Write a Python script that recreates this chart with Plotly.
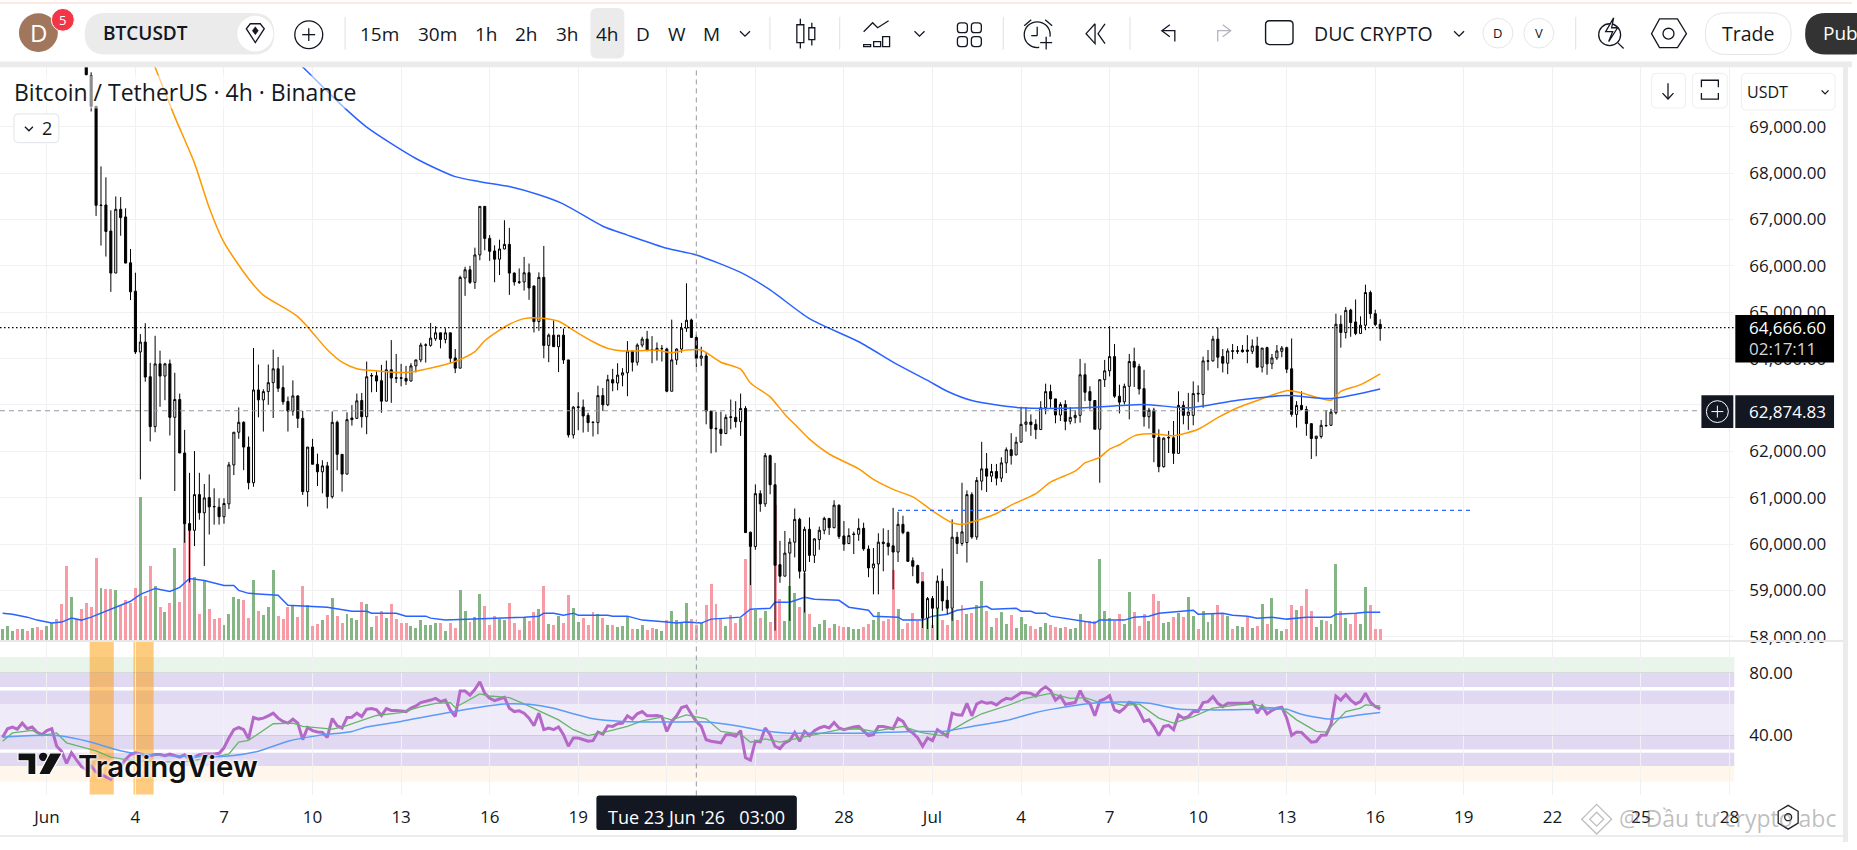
import pandas as pd
import plotly.graph_objects as go

W, H = 1857, 850
START = pd.Timestamp("2026-06-01 00:00")

# ---------- candles: bars 8..271 after 1 Jun 00:00 (4h bars), earlier bars are above the pane
first_candle = 8
opens = [
70600,70100,69440,67320,67320,66760,65859,67228,67064,66079,65469,64164,64376,63632,62560,63908,63646,63908,62760,63142,
61994,60476,60334,61100,60710,61036,60844,60830,60625,60901,61738,62440,62653,62121,61355,63348,63135,63313,63504,63802,
63398,63100,62894,63220,62738,61164,62121,61752,61590,61717,61057,62653,61965,61540,62745,62738,
63121,62773,63660,63653,63546,63107,63780,63610,63610,63596,63539,63865,63993,64315,64305,64447,64575,64433,64575,64036,
63816,65752,65929,65660,66248,67291,66603,66333,66156,66376,66475,65858,65670,65667,65865,65582,64816,65766,64305,64525,
64277,64525,63993,62383,62985,62979,62802,62660,62646,63227,63029,63568,63497,63667,63717,64185,63943,64312,64440,64210,64192,
64240,64227,63320,63993,64227,64674,64851,64475,64029,64078,62894,62525,62504,62412,62770,62759,62667,62951,60291,59986,
61121,60901,61937,61312,59596,59348,59844,60079,60568,59454,60355,59795,60135,60334,60589,60390,60873,60213,60050,60255,
60248,60376,59930,59525,59610,60079,60057,60000,59866,60461,60291,59681,59575,59227,58447,58866,58660,59241,58830,58660,60185,
60050,60070,61100,60190,61390,61653,61497,61596,61454,61781,62064,61951,62227,62610,62660,62610,62497,62965,63312,63156,
62809,63036,62674,62752,62802,63674,63312,63121,62504,63568,63759,64064,63213,63093,63426,63958,63851,63376,62773,62915,
62327,61700,62330,62320,61986,63015,62802,62802,63275,63249,63975,63972,64440,64064,63922,64190,64190,64206,64206,64178,64291,63837,64256,63908,64036,64178,64256,
63802,62823,63015,62929,62624,62305,62348,62585,62589,62858,64759,64582,65064,64809,64561,64738,65440,64986,64759]
highs = [
70900,70170,69440,68150,67915,67206,67504,67490,67250,66376,65866,64547,64781,63930,64511,64192,63930,64000,63717,63270,
62490,61568,62036,61568,61327,61533,61235,61022,61022,61802,62440,62972,62675,62348,64249,63894,63362,63894,64213,64057,
63873,63206,63554,63234,62901,62121,62298,61980,61838,61802,62887,62688,61965,62866,63022,63270,
63284,63958,63709,63745,63887,63979,64419,64121,63908,63865,63922,63993,64362,64348,64787,64716,64575,64674,64575,64227,
65802,65993,66014,66404,67291,67291,66674,66454,66575,66993,66830,65873,65958,66206,66064,65582,65873,66440,64561,64844,
64525,64667,63993,63000,63298,63142,62858,62660,63440,63390,63674,63802,63922,63816,64397,64185,64348,64490,64617,64504,64369,
64312,64256,64858,64241,64788,65639,64880,64539,64277,64149,62894,62880,62880,62823,63142,63107,63270,63000,60305,61320,
61192,61993,61958,61780,60107,60320,60163,60802,60603,60412,60610,60163,60412,60625,60589,60979,60887,60532,60376,60305,
60589,60497,60008,59951,60270,60376,60341,60816,60731,60646,60305,59752,59596,59240,58901,58922,59362,59511,59135,60568,60300,
61355,61190,61150,61476,62234,61993,61759,61759,61901,62114,62419,62341,62986,62979,62823,62717,63107,63483,63461,63156,
63085,63128,62979,62915,64015,63922,63426,63121,63568,63993,64717,64334,63461,63483,64121,64256,63908,63780,62965,62965,
62504,62327,62468,62681,63319,63107,63284,63532,63447,64064,64206,64511,64688,64227,64241,64334,64291,64312,64525,64433,64490,64248,64277,64121,64312,64291,64277,
64454,63107,63319,63000,62624,62362,62702,62915,62944,64986,64951,65128,65093,65291,64929,65610,65482,65071,64866]
lows = [
70100,69330,67086,66448,66213,65455,65859,66660,66072,65277,64121,61426,63525,62242,62440,62986,63128,62370,61178,61994,
60065,59213,59994,60561,59568,60242,60455,60455,60476,60788,61519,62300,61625,61213,61270,62760,62454,63029,62745,63305,
63029,62455,62795,62532,61093,60844,61752,61284,61128,60802,61015,61625,61164,61540,62582,62724,
62539,62397,63298,63305,62858,63107,63071,63497,63426,63454,63532,63724,63943,63936,64277,64404,64241,64348,63922,63709,
63816,65369,65624,65518,66135,66348,66121,65660,65816,66369,65390,65589,65624,65482,65284,64582,64617,64029,63943,64277,
63730,63908,62327,62305,62483,62433,62447,62348,62397,62894,63000,63320,63341,63426,63213,63745,63873,64263,64192,63922,63979,
63958,63298,63320,63887,64149,64596,64468,63837,63866,62610,61986,62007,62149,62397,62504,62539,62362,60284,59157,59915,
60731,60837,61107,58178,59206,59348,58390,59752,59298,58568,59653,59631,59915,60248,60234,60376,60149,59894,60036,59823,
60107,59894,59326,58958,58958,59454,59795,59064,59653,60248,59653,59348,59185,58235,58213,58235,57965,58603,58532,58390,59823,
60000,59640,60150,60130,61192,61157,61369,61298,61369,61561,61745,61951,62220,62454,62362,62291,62497,62823,62965,62632,
62681,62483,62610,62632,62646,63107,62929,62504,61355,63412,63639,63178,62844,63036,62717,63412,63249,62561,62518,61795,
61580,61680,61993,61759,61986,62610,62490,62589,63086,62965,63766,63958,63816,63724,63688,64007,64121,64149,63922,64121,63837,63724,63674,63795,63993,64050,63710,
62773,62539,62908,62362,61866,61923,62305,62560,62575,62823,64256,64454,64490,64525,64561,64631,64880,64717,64404]
closes = [
70120,69440,67313,67310,66752,65859,67228,67050,66072,65455,64164,64376,63625,62560,63908,63646,63908,62760,63142,61994,
60476,60334,61100,60710,61029,60837,60840,60625,60909,61738,62440,62653,62121,61355,63348,63135,63313,63504,63802,63384,
63093,62894,63220,62738,61164,62121,61752,61590,61717,61057,62653,61965,61540,62710,62710,63114,
62773,63632,63650,63539,63107,63780,63603,63600,63600,63539,63865,63993,64312,64310,64461,64575,64433,64575,64029,63816,
65766,65929,65660,66248,67291,66603,66326,66156,66376,66475,65858,65667,65660,65865,65539,64816,65766,64305,64525,64277,
64525,63993,62383,62979,62975,62788,62646,62650,63227,63029,63568,63497,63667,63717,64185,63943,64312,64440,64192,64200,64241,
64235,63320,63993,64227,64674,64844,64475,64029,64078,62894,62518,62515,62412,62759,62760,62667,62951,60284,59986,61121,
60901,61937,61312,59582,59348,59844,60079,60568,59454,60355,59795,60149,60334,60589,60390,60873,60199,60036,60220,60245,
60376,59937,59525,59610,60079,60050,59986,59866,60461,60284,59667,59561,59206,58447,58866,58660,59241,58816,58660,60185,60050,
60300,61100,60190,61405,61653,61497,61596,61454,61781,62064,61937,62227,62610,62660,62603,62497,62965,63312,63156,62809,
63036,62674,62759,62802,63674,63298,63121,62504,63568,63759,64064,63213,63086,63426,63958,63837,63369,62773,62915,62327,
61700,62313,62320,61986,63015,62802,62873,63270,63265,63972,63965,64440,64050,63922,64185,64180,64180,64170,64178,64291,63837,64248,63908,64036,64185,64248,63795,
62823,63015,62929,62624,62305,62355,62589,62580,62873,64759,64582,65057,64795,64561,64738,65440,64986,64752,64667]
n = len(opens)

# moving averages on price: bar number and value
ema_bars = [20,22,26,30,33,36,41,44,51,57,60,63,67,73,77,81,83,87,89,92,94,97,100,104,107,111,114,117,124,127,130,133,137,141,143,147,150,152,155,159,165,168,172,176,180,184,186,190,193,196,201,204,209,211,214,216,218,221,224,226,229,234,238,242,246,252,255,261,263,267,271]
ema_vals = [70850,70277,69213,68220,67263,66518,65738,65384,64922,64213,63944,63805,63759,63724,63795,63894,63958,64170,64404,64631,64759,64880,64894,64823,64631,64383,64241,64185,64200,64149,64206,64206,63944,63795,63497,63199,62823,62610,62291,61972,61653,61426,61213,61050,60752,60497,60461,60575,60695,60873,61121,61369,61603,61780,61901,62078,62170,62362,62405,62397,62362,62504,62752,62965,63121,63333,63284,63128,63319,63461,63695]
sma_bars = [45,52,60,65,75,83,88,94,100,105,113,118,126,132,141,147,155,165,173,179,183,188,198,211,223,232,242,252,261,271]
sma_vals = [70970,70283,69454,68993,68319,67929,67822,67716,67539,67340,66865,66674,66390,66248,65872,65496,64879,64383,63886,63553,63319,63120,62964,62964,63035,62964,63127,63227,63163,63369]

# volume in hundreds of coins, bars -9..271
vol_first = -9
volumes = [11,14,9,11,11,9,12,13,10,14, 17,21,36,74,43,21,31,37,33,82, 52,51,51,50,35,40,37,52,144,44, 74,54,33,28,37,92,38,126,118,63,
26,60,31,21,22,15,26,43,41,40, 22,60,29,25,33,70,24,21,33,34, 23,54,35,14,16,20,25,42,24,17, 26,22,20,38,36,13,24,29,22,36,
21,17,17,14,12,20,15,15,17,17, 9,17,12,50,29,18,23,46,34,15, 24,21,20,37,17,10,22,19,28,31, 54,16,15,24,17,45,32,18,22,15,
28,26,22,15,15,13,14,23,11,11, 15,10,12,11,9,20,29,20,18,37, 21,15,17,35,56,36,21,14,25,17, 22,81,93,30,22,29,18,136,41,19,
54,47,33,67,26,13,16,20,12,16, 14,13,13,11,11,13,16,20,28,19, 21,70,31,11,17,27,19,68,21,15, 34,20,15,31,20,35,26,27,35,59,
29,13,22,28,16,25,12,23,16,14, 11,13,17,15,13,12,13,11,12,26, 19,19,19,81,29,22,19,26,16,48, 28,14,26,19,46,39,17,18,23,27,
23,43,24,11,29,18,26,35,27,24, 11,14,13,23,12,14,36,16,42,11, 9,11,35,30,34,51,29,13,20,19, 16,76,29,22,16,27,16,53,35,11,11]
vol_dirs = ("gggpgpgppg" "gpppgppppp" "gppgppppgp" "pgpgpgpppg" "pgpppggggp" "pgpgggpppg" "ppgppgpgpp" "gggpggppgp" "pppggggggp" "gppggpggpp"
            "pggpppgppg" "pgpgppggpp" "pgpgpgggpg" "gppggpgggg" "ppgppppgpp" "gppgpgpppg" "ggpgpgggpg" "ppgggppggp" "ppgpppppgp" "gppgppgpgg"
            "pgpggpgggp" "pggppgpggg" "pppgggppgg" "pppgppggpg" "pggpgggppg" "pggpgpgpgg" "gppgpppggp" "ggpgppggppp")
vol_ma_bars = [-9,-7,-4,-2,1,3,5,7,9,11,14,17,19,22,25,27,29,32,36,38,39,41,47,49,57,62,65,66,71,73,77,78,81,88,92,97,100,101,103,105,107,108,114,115,118,121,126,128,130,133,135,141,143,147,148,151,154,156,161,163,167,168,173,174,178,180,183,185,188,191,192,197,198,200,201,203,204,209,211,213,214,219,221,224,226,229,232,233,234,239,241,244,246,249,252,256,261,262,266,268,271]
vol_ma_vals = [27,26,23,20,17,18,22,20,23,27,33,39,46,52,49,53,62,60,55,55,50,47,45,35,33,29,29,27,27,24,24,22,20,21,22,23,24,27,27,25,27,25,25,24,24,20,18,17,18,17,21,23,31,32,38,38,43,41,40,33,30,24,23,20,20,24,26,30,32,34,31,32,29,29,27,27,24,20,18,17,20,20,23,24,27,28,29,30,26,27,25,24,22,23,21,23,23,26,27,28,28]

# RSI, bars -9..271
rsi_first = -9
rsi = [38.7,44.2,45.3,44,47.8,44.2,45.3,41.9,40.4,43, 44.2,33,29.8,22,28.8,24,20,18,20.3,16.5, 15,13.5,11.9,16,20,24.5,27.7,28.8,28,26.7, 27,27.7,27.7,27,28,27,26,27.5,24.5,26,
27.5,28,28,28,28.5,32,38.3,43.6,45,43.6, 37.7,51.4,50.4,51,52.5,54.2,51,48.9,47.8,50.4, 47.8,37.2,45,43,42.1,41.9,38.7,50.8,46.1,44.7,
51.4,51.6,54.2,52,56.7,57.1,56.3,52.7,57.1,55.9, 55.9,55.7,55.2,57.4,58.8,61,61.6,62.6,63.7,61.6, 62.6,56.3,52,68.4,68.4,65.8,69.4,74.3,66.9,63.7,
62.2,63.5,64.3,57.4,55.2,55.7,54.2,51,46.1,54.2, 43.6,44.7,43.6,45.3,40.4,33,38.3,38.3,37.2,36.2, 36.6,42.1,40.8,46.1,45.7,47.4,47.8,52.5,50.4,53.8,
55.2,52.5,52.5,52.7,52,42.5,48.9,52.5,57.8,58.8, 53.5,48.9,45.7,37.2,36.2,35.8,35.2,40.4,40.4,39.4, 43,25.6,24.1,36.2,35.8,44.7,40.4,33,31.5,35.2,
36.8,41.9,36.2,42.5,39.8,43,44.7,45.7,44.7,48.2, 44.7,43.6,44.7,45.3,45.7,42.5,39.8,40.4,45.7,45.7, 45,44.2,50.8,48.9,43.6,41.5,38.3,33,38.3,36.6,
43.6,41.5,39.4,54.2,53.1,52.9,60.5,52.5,60.1,61.6, 60.5,61,59.5,62,63.7,63.1,65.4,67.3,67.3,66.9, 65.2,69,71.1,68.6,62.6,65.2,59.9,60.5,61,68.6,
62.6,60.5,52.5,62,63.3,65.4,56.3,54.8,57.4,61.2, 60.1,55.2,48.9,49.9,45.7,39.8,45.7,46.3,43.6,53.1, 51,52,55.2,55.2,61,61.6,64.8,60.5,58.4,60.5,
60.5,60.5,60.1,60.5,61.6,54.2,58.8,53.8,55.9,57.4, 58,51,40,42.1,41.9,38.9,35.6,36,40,40.2, 46.8,65.2,62.6,66.2,62.6,60.1,61.6,66.9,61.2,58.4,56.9]
rsi_sma_bars = [-9,-7,-3,-1,2,4,7,10,13,17,22,28,34,37,39,41,46,50,52,56,58,60,64,67,72,76,79,82,83,87,88,90,94,97,100,104,107,110,114,118,121,125,127,130,134,137,141,143,146,149,153,158,161,165,168,174,178,182,185,187,190,193,196,199,204,208,211,214,216,219,222,226,229,233,237,242,245,248,251,254,258,260,264,267,268,271]
rsi_sma_vals = [36.2,41.5,43.2,40,41.5,35.2,32.6,30,26,24,23,23,26,28,35.6,36.8,47.4,47.8,45.7,44.7,44,45.3,49.3,52.7,54.6,58.4,60.5,61,57.8,64.8,66.5,65.2,64.1,60.1,55.9,49.9,43.6,39.8,42.5,45.7,49.3,51.6,49.9,53.1,50.6,42.5,40.8,35.6,37.7,35.6,38.3,41.9,43.6,44.2,42.5,45.7,41.5,39.8,45.3,48.9,53.8,56.7,59.9,63.7,66.9,63.7,64.1,61,61.2,59,60.1,51,47.8,52,57.4,59.5,60.1,57.8,57.4,49.9,42.5,42.1,55.2,57.4,59.5,58.8]
rsi_ma_bars = [-9,-3,2,9,14,17,24,34,38,43,49,55,62,65,72,78,88,93,98,103,107,111,117,127,134,141,145,150,158,165,176,182,188,195,201,205,211,216,224,230,237,247,252,255,261,266,271]
rsi_ma_vals = [38.7,39.8,39.8,35.6,30.9,28.8,27,26.2,27,29.8,36.2,39.8,42.5,45.3,48.9,52.5,58,60.1,59.9,57.4,53.8,50.6,48.9,48.5,48.5,45.7,43.2,41.5,41.3,41.3,42.5,42.5,45.7,49.5,54.6,57.1,60.1,61.2,60.5,56.9,56.3,56.7,56.7,53.5,50.4,52.7,54.6]

drawn_level = 60760
drawn_from, drawn_to = 173, 290
last_price, cross_price = 64666.60, 62874.83
cross_bar = 132
rsi_flags = [(8.7, 13.6), (17.6, 21.7)]

month_ticks = [("2026-06-01","Jun"),("2026-06-04","4"),("2026-06-07","7"),("2026-06-10","10"),("2026-06-13","13"),("2026-06-16","16"),
               ("2026-06-19","19"),("2026-06-22","22"),("2026-06-25","25"),("2026-06-28","28"),("2026-07-01","Jul"),("2026-07-04","4"),
               ("2026-07-07","7"),("2026-07-10","10"),("2026-07-13","13"),("2026-07-16","16"),("2026-07-19","19"),("2026-07-22","22"),
               ("2026-07-25","25"),("2026-07-28","28")]
price_ticks = [58000,59000,60000,61000,62000,63000,64000,65000,66000,67000,68000,69000]

# read-off calibration of the price scale
def cal(p):
    return 69000 - (69000 - p) * 1.0043

def at(k):
    return START + pd.Timedelta(hours=4) * k

FONT = "Open Sans"
INK = "#131722"
fig = go.Figure()

def px(x): return x / W
def py(y): return 1 - y / H

shapes, notes = [], []

def line(x0, y0, x1, y1, color=INK, w=1.3, dash=None):
    shapes.append(dict(type="line", xref="paper", yref="paper", x0=px(x0), y0=py(y0), x1=px(x1), y1=py(y1),
                       line=dict(color=color, width=w, dash=dash)))

def rect(x0, y0, x1, y1, fill=None, color=None, w=1):
    shapes.append(dict(type="rect", xref="paper", yref="paper", x0=px(x0), y0=py(y0), x1=px(x1), y1=py(y1),
                       fillcolor=fill or "rgba(0,0,0,0)", line=dict(color=color or "rgba(0,0,0,0)", width=w if color else 0)))

def rrect(x0, y0, x1, y1, r, fill=None, color=None, w=1):
    p = (f"M{px(x0+r)},{py(y0)} L{px(x1-r)},{py(y0)} Q{px(x1)},{py(y0)} {px(x1)},{py(y0+r)} "
         f"L{px(x1)},{py(y1-r)} Q{px(x1)},{py(y1)} {px(x1-r)},{py(y1)} L{px(x0+r)},{py(y1)} "
         f"Q{px(x0)},{py(y1)} {px(x0)},{py(y1-r)} L{px(x0)},{py(y0+r)} Q{px(x0)},{py(y0)} {px(x0+r)},{py(y0)} Z")
    shapes.append(dict(type="path", xref="paper", yref="paper", path=p, fillcolor=fill or "rgba(0,0,0,0)",
                       line=dict(color=color or "rgba(0,0,0,0)", width=w if color else 0)))

def circ(cx, cy, r, fill=None, color=None, w=1.3):
    if fill is None and color is None:
        color = INK
    shapes.append(dict(type="circle", xref="paper", yref="paper", x0=px(cx-r), y0=py(cy-r), x1=px(cx+r), y1=py(cy+r),
                       fillcolor=fill or "rgba(0,0,0,0)", line=dict(color=color or "rgba(0,0,0,0)", width=w if color else 0)))

def poly(pts, closed=False, fill=None, color=INK, w=1.3):
    p = "M" + " L".join(f"{px(a)},{py(b)}" for a, b in pts) + (" Z" if closed else "")
    shapes.append(dict(type="path", xref="paper", yref="paper", path=p, fillcolor=fill or "rgba(0,0,0,0)",
                       line=dict(color=color or "rgba(0,0,0,0)", width=w if color else 0)))

def text(x, y, s, size=19, color=INK, anchor="center", bg=None, weight=None, family=FONT, shadow=None):
    f = dict(family=family, size=size, color=color)
    if weight: f["weight"] = weight
    if shadow: f["shadow"] = shadow
    notes.append(dict(xref="paper", yref="paper", x=px(x), y=py(y), text=s, showarrow=False, xanchor=anchor, yanchor="middle",
                      font=f, bgcolor=bg or "rgba(0,0,0,0)", borderpad=0))

def chevron(cx, cy, s=5, color=INK, w=1.3):
    poly([(cx-s, cy-s*0.5), (cx, cy+s*0.5), (cx+s, cy-s*0.5)], color=color, w=w)

# ---------- traces
vol_x = [at(vol_first + i) for i in range(len(volumes))]
fig.add_trace(go.Bar(x=vol_x, y=volumes, width=4*3600*1000*0.6, yaxis="y",
                     marker=dict(color=["#85b585" if d == "g" else "#f79ca6" for d in vol_dirs], line_width=0), hoverinfo="skip"))
fig.add_trace(go.Scatter(x=[at(k) for k in vol_ma_bars], y=vol_ma_vals, mode="lines", yaxis="y",
                         line=dict(color="#2962ff", width=1.5), hoverinfo="skip"))
fig.add_trace(go.Candlestick(x=[at(first_candle + i) for i in range(n)],
                             open=[cal(v) for v in opens], high=[cal(v) for v in highs],
                             low=[cal(v) for v in lows], close=[cal(v) for v in closes], yaxis="y2",
                             increasing=dict(fillcolor="#ffffff", line=dict(color="#000000", width=1)),
                             decreasing=dict(fillcolor="#000000", line=dict(color="#000000", width=1)),
                             hoverinfo="skip"))
fig.add_trace(go.Scatter(x=[at(k) for k in ema_bars], y=[cal(v) for v in ema_vals], mode="lines", yaxis="y2",
                         line=dict(color="#ff9800", width=1.5, shape="spline", smoothing=0.7), hoverinfo="skip"))
fig.add_trace(go.Scatter(x=[at(k) for k in sma_bars], y=[cal(v) for v in sma_vals], mode="lines", yaxis="y2",
                         line=dict(color="#2962ff", width=1.5, shape="spline", smoothing=0.7), hoverinfo="skip"))
fig.add_trace(go.Scatter(x=[at(drawn_from), at(drawn_to)], y=[cal(drawn_level)]*2, mode="lines", yaxis="y2",
                         line=dict(color="#2962ff", width=1.2, dash="4px,4px"), hoverinfo="skip"))
fig.add_trace(go.Scatter(x=[at(rsi_first + i) for i in range(len(rsi))], y=rsi, mode="lines", yaxis="y3",
                         line=dict(color="#b668c9", width=3), hoverinfo="skip"))
fig.add_trace(go.Scatter(x=[at(k) for k in rsi_sma_bars], y=rsi_sma_vals, mode="lines", yaxis="y3",
                         line=dict(color="#66b56a", width=1.3), hoverinfo="skip"))
fig.add_trace(go.Scatter(x=[at(k) for k in rsi_ma_bars], y=rsi_ma_vals, mode="lines", yaxis="y3",
                         line=dict(color="#5b9cf6", width=1.5, shape="spline", smoothing=0.7), hoverinfo="skip"))

# ---------- RSI bands (below traces)
def band(lo, hi, color):
    shapes.append(dict(type="rect", layer="below", xref="paper", yref="y3", x0=0, x1=1739/W, y0=lo, y1=hi,
                       fillcolor=color, line_width=0))
PURPLE, LAV = "rgba(120,80,190,0.22)", "rgba(126,87,194,0.12)"
band(80, 90.2, "rgba(76,175,80,0.12)")
band(70.9, 80, PURPLE)
band(60, 68.8, PURPLE)
band(40, 60, LAV)
band(30.9, 40, PURPLE)
band(20.3, 28.9, PURPLE)
band(10.2, 20.3, "rgba(255,152,0,0.08)")
for a, b in rsi_flags:
    shapes.append(dict(type="rect", layer="below", xref="x", yref="paper", x0=at(a), x1=at(b), y0=py(802), y1=py(648),
                       fillcolor="rgba(255,152,0,0.5)", line_width=0))

# ---------- price lines and crosshair
shapes.append(dict(type="line", xref="paper", yref="y2", x0=0, x1=1739/W, y0=last_price, y1=last_price,
                   line=dict(color="#000000", width=1.2, dash="1.5px,2.5px")))
shapes.append(dict(type="line", xref="paper", yref="y2", x0=0, x1=1706/W, y0=cross_price, y1=cross_price,
                   line=dict(color="#9598a1", width=1, dash="5px,4px")))
shapes.append(dict(type="line", xref="x", yref="paper", x0=at(cross_bar), x1=at(cross_bar), y0=py(803), y1=py(68),
                   line=dict(color="#9598a1", width=1, dash="5px,4px")))

# ---------- page furniture
rect(0, 2, W, 4, fill="#fde9e4")
rect(0, 62, W, 68, fill="#ebebeb")
rect(0, 646, 1848, 648, fill="#e8e8e8")
rect(0, 843, 1848, 845, fill="#ebebeb")
rect(1848, 68, 1853, H, fill="#ebebeb")

# toolbar left
circ(38.5, 33, 19.5, fill="#a0765c")
text(38.5, 33, "D", 24, "#ffffff")
circ(63, 20, 11.5, fill="#f23645", color="#ffffff", w=1)
text(63, 20, "5", 13, "#ffffff")
rrect(85, 13, 275, 55, 21, fill="#ebebeb")
circ(256, 34, 18, fill="#ffffff")
text(102, 33.5, "BTCUSDT", 19, INK, "left", weight=600)
poly([(247, 29), (251, 24), (261, 24), (265, 29), (256, 43)], closed=True, w=1.3)
poly([(256, 27), (259, 31), (256, 35), (253, 31)], closed=True, fill=INK, w=0.5)
circ(309.6, 35, 14)
line(303, 35, 316, 35); line(309.6, 28.5, 309.6, 41.5)
line(346, 17, 346, 50, color="#e0e0e0", w=1)
rrect(592, 8, 626, 59, 7, fill="#ebebeb")
for cx, lab in [(381, "15m"), (439, "30m"), (488, "1h"), (528, "2h"), (569, "3h"), (609, "4h"), (645, "D"), (678.5, "W"), (713, "M")]:
    text(cx, 34, lab, 19)
chevron(747, 34)
line(772, 17, 772, 50, color="#e0e0e0", w=1)
# candle icon
rect(799, 25, 806, 43, color=INK, w=1.3); line(802.5, 19, 802.5, 25); line(802.5, 43, 802.5, 49)
rect(811, 28, 817, 40, color=INK, w=1.3); line(814, 23, 814, 28); line(814, 40, 814, 46)
line(842, 17, 842, 50, color="#e0e0e0", w=1)
# chart bars icon
for a, b in [(866, 38), (876, 35), (885, 30)]:
    rect(a, b+7, a+7, 47, color=INK, w=1.3)
poly([(866, 32), (875, 23), (880, 28), (891, 21)])
chevron(922, 34)
# layouts icon
for a, b in [(960, 23), (974, 23), (960, 37), (974, 37)]:
    rrect(a, b, a+10, b+10, 3, color=INK, w=1.3)
line(1006, 17, 1006, 50, color="#e0e0e0", w=1)
# alarm icon
circ(1040, 35, 13)
line(1040, 27, 1040, 36); line(1040, 36, 1034, 36)
rect(1042, 37, 1056, 49, fill="#ffffff")
line(1043, 43, 1055, 43); line(1049, 37, 1049, 50)
line(1027, 26, 1034, 20); line(1048, 20, 1055, 26)
# replay
poly([(1098, 24), (1089, 34), (1098, 44), (1098, 24)])
poly([(1108, 24), (1101, 34), (1108, 44)])
line(1133, 17, 1133, 50, color="#e0e0e0", w=1)
# undo / redo
poly([(1173, 25), (1165, 31), (1173, 37)])
poly([(1165, 31), (1178, 31), (1178, 42)])
poly([(1226, 25), (1234, 31), (1226, 37)], color="#b2b5be")
poly([(1234, 31), (1221, 31), (1221, 42)], color="#b2b5be")
rrect(1269, 21, 1296.5, 45, 4, color=INK, w=1.4)
text(1377.5, 33.5, "DUC CRYPTO", 19.5)
chevron(1463, 34)
circ(1502, 33.5, 15, color="#e6e6e6", w=1); text(1502, 33.5, "D", 13)
circ(1543, 33.5, 15, color="#e6e6e6", w=1); text(1543, 33.5, "V", 13)
line(1580, 17, 1580, 50, color="#e0e0e0", w=1)
# lightning search
circ(1614, 35, 11)
line(1622, 43, 1628, 49)
poly([(1618, 18), (1610, 32), (1617, 32), (1613, 42), (1622, 28), (1616, 28)], closed=True, fill="#ffffff", w=1.3)
# hexagon
poly([(1664, 19), (1682, 19), (1691, 34), (1682, 48), (1664, 48), (1656, 34)], closed=True)
circ(1673, 34, 5.5)
rrect(1710, 13, 1796, 55, 21, fill="#ffffff", color="#e6e6e6", w=1)
text(1753, 33.5, "Trade", 19.5)
rrect(1810, 13, 1880, 55, 21, fill="#333333")
text(1827, 33.5, "Pub", 19, "#ffffff", "left")

# legend
text(13, 92.5, "Bitcoin / TetherUS \u00b7 4h \u00b7 Binance", 23, INK, "left", bg="rgba(255,255,255,0.55)")
rrect(14, 115, 59, 144, 4, fill="#ffffff", color="#e0e3eb", w=1)
chevron(29, 130, 4)
text(47, 129.5, "2", 18)

# top-right buttons
rrect(1656, 74, 1690, 109, 5, fill="#ffffff", color="#eeeeee", w=1)
line(1672.5, 84, 1672.5, 100); poly([(1667, 94), (1672.5, 100), (1678, 94)])
rrect(1697, 74, 1732, 109, 5, fill="#ffffff", color="#eeeeee", w=1)
poly([(1706, 88), (1706, 81), (1723, 81), (1723, 88)])
poly([(1706, 94), (1706, 100), (1723, 100), (1723, 94)])
rrect(1746, 74, 1840, 111, 5, fill="#ffffff", color="#eeeeee", w=1)
text(1751, 92.5, "USDT", 16, INK, "left")
chevron(1830, 93, 3.5)

# price labels
rect(1740, 318, 1839, 366, fill="#000000")
text(1753, 331, "64,666.60", 17, "#ffffff", "left")
text(1753, 352, "02:17:11", 17, "#d6d6d6", "left")
rect(1706, 399, 1738, 432, fill=INK)
rect(1740, 399, 1839, 432, fill=INK)
circ(1722, 415.5, 11, color="#ffffff", w=1)
line(1716, 415.5, 1728, 415.5, color="#ffffff", w=1); line(1722, 409.5, 1722, 421.5, color="#ffffff", w=1)
text(1753, 415.5, "62,874.83", 17, "#ffffff", "left")

# time label
rrect(598, 803, 799, 838, 3, fill=INK)
text(698.5, 825, "Tue 23 Jun '26&nbsp;&nbsp;&nbsp;03:00", 18, "#ffffff")

# TradingView logo
poly([(18, 760), (36, 760), (36, 782), (28, 782), (28, 768), (18, 768)], closed=True, fill="#111111", color="#ffffff", w=1.2)
circ(43.3, 764, 4.2, fill="#111111")
poly([(50, 760), (62.5, 760), (50, 782), (38.5, 782)], closed=True, fill="#111111", color="#ffffff", w=1.2)
text(77, 773, "TradingView", 29.5, "#111111", "left", weight=600, family="Inter",
     shadow="white 0 0 3px, white 0 0 3px, white 0 0 4px")

# watermark
WM = "rgba(110,110,110,0.45)"
poly([(1601, 812), (1616, 827), (1601, 842), (1586, 827)], closed=True, color=WM, w=1.3)
poly([(1601, 820), (1608, 827), (1601, 834), (1594, 827)], closed=True, color=WM, w=1.3)
text(1622, 826, "@ \u0110\u1ea7u t\u01b0 crypto abc", 23, WM, "left")
poly([(1793, 813), (1803, 819), (1803, 831), (1793, 837), (1783, 831), (1783, 819)], closed=True, color="#222222", w=1.3)
circ(1793, 825, 3.5, color="#222222")

fig.update_layout(
    width=W, height=H, autosize=False, margin=dict(l=0, r=0, t=0, b=0),
    paper_bgcolor="#ffffff", plot_bgcolor="#ffffff", showlegend=False, hovermode=False,
    boxgap=0.4, bargap=0, dragmode=False,
    font=dict(family=FONT, color=INK),
    xaxis=dict(domain=[0, 1739/W], type="date", range=[at(-47/4.9333), at(1692/4.9333)], anchor="y3",
               tickvals=[t[0] for t in month_ticks], ticktext=[t[1] for t in month_ticks],
               tickfont=dict(size=17, family=FONT, color=INK), ticklen=0, ticklabelstandoff=10,
               showgrid=True, gridcolor="#f1f1f3", gridwidth=1, zeroline=False, showline=False,
               rangeslider=dict(visible=False), tickangle=0),
    yaxis=dict(domain=[py(646), py(68)], range=[0, 578], visible=False, showgrid=False, fixedrange=True),
    yaxis2=dict(domain=[py(646), py(68)], range=[69000 - (646-128)/0.0468, 69000 + 60/0.0468], overlaying="y", side="right", anchor="x",
                tickvals=price_ticks, ticktext=[f"{v:,.2f}" for v in price_ticks], ticks="", ticklen=0,
                ticklabelposition="outside", ticklabelstandoff=14,
                tickfont=dict(size=17, family=FONT, color=INK), showgrid=True, gridcolor="#f1f1f3", gridwidth=1,
                zeroline=False, showline=False),
    yaxis3=dict(domain=[py(803), py(648)], range=[1.46, 99.87], side="right", anchor="x",
                tickvals=[40, 80], ticktext=["40.00", "80.00"], ticklen=0, ticklabelstandoff=14,
                tickfont=dict(size=17, family=FONT, color=INK), showgrid=True, gridcolor="rgba(120,110,160,0.18)",
                zeroline=False, showline=False),
    shapes=shapes, annotations=notes,
)
fig.write_html("out.html", config=dict(displayModeBar=False), post_script="document.body.style.margin='0';document.documentElement.style.overflow='hidden';")
